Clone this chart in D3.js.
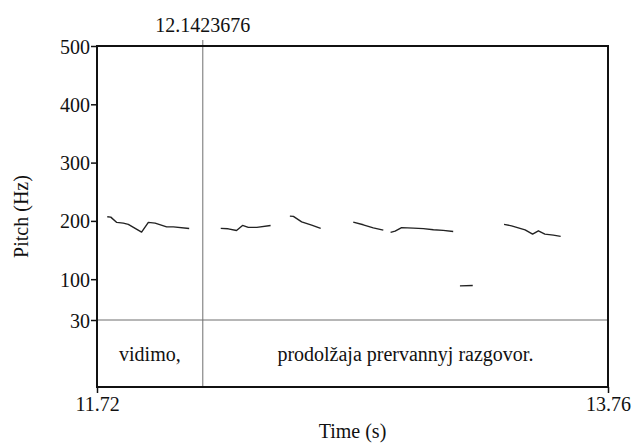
<!DOCTYPE html>
<html><head><meta charset="utf-8">
<script src="https://cdn.jsdelivr.net/npm/d3@7"></script>
<style>body{margin:0;background:#fff}svg{display:block}</style>
</head><body>
<svg id="c" width="637" height="444"></svg>
<script>
// Time domain and pitch domain
const timeDomain = [11.72, 13.76];
const pitchDomain = [30, 500];
const pitchTicks = [30, 100, 200, 300, 400, 500];
const timeTickLabels = ["11.72", "13.76"];
const boundaryTime = 12.1423676;
const boundaryLabel = "12.1423676";
const intervals = [
  {start: 11.72, end: 12.1423676, text: "vidimo,"},
  {start: 12.1423676, end: 13.76, text: "prodolžaja prervannyj razgovor."}
];
// pitch contour segments: [time (s), pitch (Hz)]
const seg1 = [[11.761,207],[11.775,206.5],[11.799,197.4],[11.825,196.2],[11.845,194],[11.898,180.7],[11.925,197.4],[11.952,196.2],[11.998,189.8],[12.025,189.8],[12.088,187]];
const seg2 = [[12.214,187.1],[12.244,186.4],[12.277,183.6],[12.301,192.2],[12.324,188.8],[12.358,188.8],[12.413,192.2]];
const seg3 = [[12.490,208.2],[12.504,207.7],[12.537,198.4],[12.577,192.7],[12.613,187.1]];
const seg4 = [[12.743,197.9],[12.783,193.3],[12.823,188.1],[12.863,184.2]];
const seg5 = [[12.892,180.2],[12.910,182.4],[12.936,188.5],[12.983,187.6],[13.023,186.7],[13.063,184.7],[13.102,183.8],[13.142,181.9]];
const seg6 = [[13.169,88.5],[13.220,89.2]];
const seg7 = [[13.345,194],[13.375,191.5],[13.429,184.7],[13.459,177.3],[13.482,183],[13.508,177.3],[13.542,175.6],[13.571,173.5]];
const segments = [seg1, seg2, seg3, seg4, seg5, seg6, seg7];

const FONT = "'Liberation Serif', 'DejaVu Serif', 'Noto Serif', serif";
const svg = d3.select("#c");
const L = 97, R = 608, T = 46, B = 387, tierTop = 320;
const x = d3.scaleLinear().domain(timeDomain).range([L, R]);
const y = d3.scaleLinear().domain(pitchDomain).range([tierTop, T]);

// inner thin lines
svg.append("line").attr("x1", L).attr("x2", R).attr("y1", tierTop).attr("y2", tierTop)
  .attr("stroke", "#6e6e6e").attr("stroke-width", 1);
svg.append("line").attr("x1", x(boundaryTime)).attr("x2", x(boundaryTime)).attr("y1", T - 6).attr("y2", B)
  .attr("stroke", "#6e6e6e").attr("stroke-width", 1);

// pitch contour
const line = d3.line().x(d => x(d[0])).y(d => y(d[1]));
svg.append("g").selectAll("path").data(segments).join("path")
  .attr("d", line).attr("fill", "none").attr("stroke", "#222").attr("stroke-width", 1.4)
  .attr("stroke-linejoin", "round");

// frame
svg.append("rect").attr("x", L).attr("y", T).attr("width", R - L).attr("height", B - T)
  .attr("fill", "none").attr("stroke", "#111").attr("stroke-width", 2);

function txt(sel) { return sel.style("font-family", FONT).style("font-size", "20px").attr("fill", "#111"); }

// y axis
const yAxis = d3.axisLeft(y).tickValues(pitchTicks).tickSize(6).tickFormat(d3.format("d"));
const ya = svg.append("g").attr("transform", `translate(${L},0)`).call(yAxis);
ya.select(".domain").remove();
ya.selectAll("line").attr("stroke", "#111").attr("stroke-width", 1.5);
txt(ya.selectAll("text")).attr("x", -7).attr("dy", "0.35em");

// x axis bottom
const xAxis = d3.axisBottom(x).tickValues(timeDomain).tickSize(6).tickFormat((d, i) => timeTickLabels[i]);
const xa = svg.append("g").attr("transform", `translate(0,${B})`).call(xAxis);
xa.select(".domain").remove();
xa.selectAll("line").attr("stroke", "#111").attr("stroke-width", 1.5);
txt(xa.selectAll("text")).attr("y", 10).attr("dy", "0.71em");

// boundary label top
txt(svg.append("text").attr("x", x(boundaryTime)).attr("y", 32).attr("text-anchor", "middle")).text(boundaryLabel);

// interval labels
txt(svg.append("g").selectAll("text").data(intervals).join("text")
  .attr("x", d => x((d.start + d.end) / 2)).attr("y", 361).attr("text-anchor", "middle")).text(d => d.text);

// axis titles
txt(svg.append("text").attr("x", (L + R) / 2).attr("y", 438).attr("text-anchor", "middle")).text("Time (s)");
txt(svg.append("text").attr("transform", `translate(28,${(T + B) / 2}) rotate(-90)`).attr("text-anchor", "middle")).text("Pitch (Hz)");
</script>
</body></html>
